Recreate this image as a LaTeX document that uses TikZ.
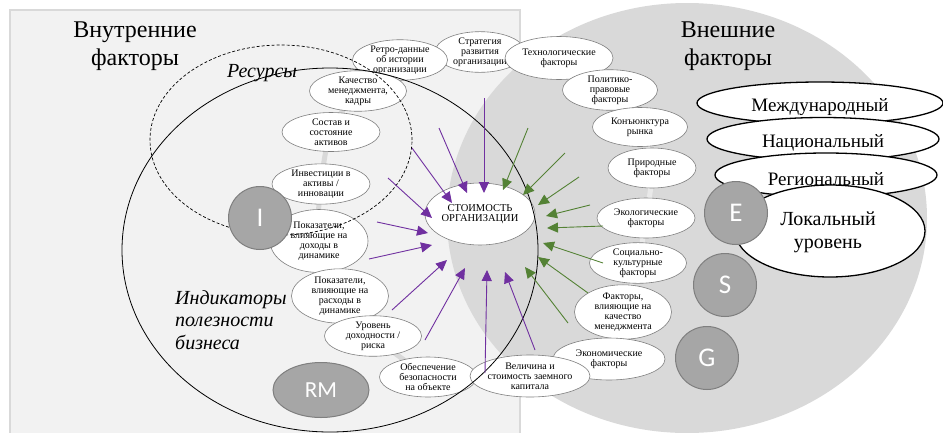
\documentclass[tikz,border=0pt]{standalone}
\usepackage{fontspec}
\newfontfamily\rmru{Liberation Serif}
\newfontfamily\calib{Carlito}
\usetikzlibrary{shapes.geometric,arrows.meta}
\definecolor{panel}{HTML}{F2F2F2}
\definecolor{panelb}{HTML}{D9D9D9}
\definecolor{bigc}{HTML}{D9D9D9}
\definecolor{circ}{HTML}{A6A6A6}
\definecolor{circb}{HTML}{7F7F7F}
\definecolor{purp}{HTML}{7030A0}
\definecolor{grn}{HTML}{548235}
\definecolor{ellb}{HTML}{7F7F7F}
\definecolor{rarc}{HTML}{E9E9E9}
\begin{document}
\begin{tikzpicture}[x=1pt,y=-1pt,
 fac/.style={ellipse, draw=ellb, line width=0.6pt, fill=white, inner sep=0pt, align=center, font=\rmru\fontsize{10}{10}\selectfont},
 gcirc/.style={circle, draw=circb, line width=1pt, fill=circ, text=white, font=\calib\fontsize{27}{27}\selectfont, minimum size=63pt, inner sep=0pt},
 lvl/.style={ellipse, draw=black, line width=1.3pt, fill=white, inner sep=0pt},
 lvltext/.style={font=\rmru\fontsize{19}{23}\selectfont, align=center, inner sep=0pt},
 bigtext/.style={font=\rmru\fontsize{24}{28}\selectfont, align=center, inner sep=0pt},
 ittext/.style={font=\rmru\itshape\fontsize{20}{22.5}\selectfont, inner sep=0pt},
 parr/.style={purp, line width=0.9pt, -{Triangle[length=11pt,width=10pt]}},
 garr/.style={grn, line width=0.9pt, -{Triangle[length=11pt,width=10pt]}},
]
\useasboundingbox (0,0) rectangle (943,432);
\clip (0,0) rectangle (943,432);
\fill[white] (0,0) rectangle (943,432);
% panels
\draw[panelb, fill=panel, line width=1.2pt] (10,10) rectangle (520,445);
\fill[bigc] (687,218) ellipse [x radius=240pt, y radius=215pt];
% guide arcs
\draw[panelb, line width=5pt] plot[smooth] coordinates {(400,60) (358,91) (331,132) (321,184) (319,241) (340,296) (373,336) (428,377)};
\draw[rarc, line width=5pt] plot[smooth] coordinates {(559,58) (610,90) (640,127) (652,168) (646,218) (638,263) (623,312) (609,359)};
% titles
\node[bigtext] (intitle) at (135,46) {Внутренние\\факторы};
\node[bigtext] (extitle) at (728,46) {Внешние\\факторы};
\node[ittext] (res) at (262,73) {Ресурсы};
\node[ittext, align=left, anchor=west] (ind) at (175,320) {Индикаторы\\полезности\\бизнеса};
% internal factors
\node[fac, minimum width=90pt, minimum height=40pt] (strat) at (480,52) {Стратегия\\развития\\организации};
\node[fac, minimum width=95pt, minimum height=37pt] (retro) at (400,60) {Ретро-данные\\об истории\\организации};
\node[fac, minimum width=97pt, minimum height=38pt] (kach) at (358,91) {Качество\\менеджмента,\\кадры};
\node[fac, minimum width=98pt, minimum height=39pt] (sost) at (331,132) {Состав и\\состояние\\активов};
\node[fac, minimum width=98pt, minimum height=38pt] (inv) at (321,184) {Инвестиции в\\активы /\\инновации};
\node[fac, minimum width=98pt, minimum height=63pt] (pokd) at (319,241) {Показатели,\\влияющие на\\доходы в\\динамике};
\node[fac, minimum width=97pt, minimum height=52pt] (pokr) at (340,296) {Показатели,\\влияющие на\\расходы в\\динамике};
\node[fac, minimum width=97pt, minimum height=38pt] (urov) at (373,336) {Уровень\\доходности /\\риска};
\node[fac, minimum width=97pt, minimum height=40pt] (obes) at (428,377) {Обеспечение\\безопасности\\на объекте};
% external factors
\node[fac, minimum width=108pt, minimum height=43pt] (tech) at (559,58) {Технологические\\факторы};
\node[fac, minimum width=95pt, minimum height=37pt] (polit) at (610,90) {Политико-\\правовые\\факторы};
\node[fac, minimum width=95pt, minimum height=39pt] (konj) at (640,127) {Конъюнктура\\рынка};
\node[fac, minimum width=88pt, minimum height=40pt] (prir) at (652,168) {Природные\\факторы};
\node[fac, minimum width=98pt, minimum height=40pt] (eko) at (646,218) {Экологические\\факторы};
\node[fac, minimum width=97pt, minimum height=40pt] (soc) at (638,263) {Социально-\\культурные\\факторы};
\node[fac, minimum width=97pt, minimum height=50pt] (fakt) at (623,312) {Факторы,\\влияющие на\\качество\\менеджмента};
\node[fac, minimum width=112pt, minimum height=42pt] (econ) at (609,359) {Экономические\\факторы};
\node[fac, minimum width=116pt, minimum height=42pt] (vel) at (530,376) {Величина и\\стоимость заемного\\капитала};
% center
\node[fac, minimum width=110pt, minimum height=62pt, font=\rmru\fontsize{10.5}{10.5}\selectfont] (stoim) at (480,214) {СТОИМОСТЬ\\ОРГАНИЗАЦИИ};
% outlines
\draw[black, line width=0.8pt] (330,250) ellipse [x radius=208pt, y radius=182pt];
\draw[black, line width=0.7pt, dash pattern=on 3pt off 2pt] (281,140) ellipse [x radius=131pt, y radius=95pt];
% levels
\node[lvl, minimum width=246pt, minimum height=42pt] (intl) at (820,103) {};
\node[lvltext] (intlt) at (820,107) {Международный};
\node[lvl, minimum width=232pt, minimum height=43pt] (nat) at (823,139) {};
\node[lvltext] (natt) at (823,143) {Национальный};
\node[lvl, minimum width=222pt, minimum height=44pt] (reg) at (826,175) {};
\node[lvltext] (regt) at (826,179) {Региональный};
\node[lvl, minimum width=190pt, minimum height=92pt] (loc) at (830,231) {};
\node[lvltext, font=\rmru\fontsize{20}{23}\selectfont] (loct) at (828,232) {Локальный\\уровень};
% gray circles
\node[gcirc] (ci) at (260,218) {I};
\node[gcirc, ellipse, minimum width=96pt, minimum height=55pt, font=\calib\fontsize{23}{23}\selectfont] (rm) at (321,390) {RM};
\node[gcirc] (ce) at (736,213) {E};
\node[gcirc] (cs) at (725,285) {S};
\node[gcirc] (cg) at (707,358) {G};
% arrow end coordinates
\coordinate (p1s) at (484,98);  \coordinate (p1e) at (484,193);
\coordinate (p2s) at (439,128); \coordinate (p2e) at (467,193);
\coordinate (p3s) at (412,148); \coordinate (p3e) at (452,203);
\coordinate (p4s) at (388,178); \coordinate (p4e) at (432,218);
\coordinate (p5s) at (377,222); \coordinate (p5e) at (428,233);
\coordinate (p6s) at (369,259); \coordinate (p6e) at (432,245);
\coordinate (p7s) at (392,310); \coordinate (p7e) at (447,260);
\coordinate (p8s) at (425,340); \coordinate (p8e) at (465,268);
\coordinate (p9s) at (485,373); \coordinate (p9e) at (487,270);
\coordinate (p10s) at (535,350); \coordinate (p10e) at (505,272);
\coordinate (g1s) at (528,128); \coordinate (g1e) at (503,190);
\coordinate (g2s) at (565,153); \coordinate (g2e) at (523,195);
\coordinate (g3s) at (579,177); \coordinate (g3e) at (538,205);
\coordinate (g4s) at (590,205); \coordinate (g4e) at (546,216);
\coordinate (g5s) at (603,226); \coordinate (g5e) at (547,228);
\coordinate (g6s) at (603,263); \coordinate (g6e) at (543,243);
\coordinate (g7s) at (588,293); \coordinate (g7e) at (538,257);
\coordinate (g8s) at (568,323); \coordinate (g8e) at (525,267);
\foreach \i in {1,...,10} {\draw[parr] (p\i s) -- (p\i e);}
\foreach \i in {1,...,8} {\draw[garr] (g\i s) -- (g\i e);}
\end{tikzpicture}
\end{document}
